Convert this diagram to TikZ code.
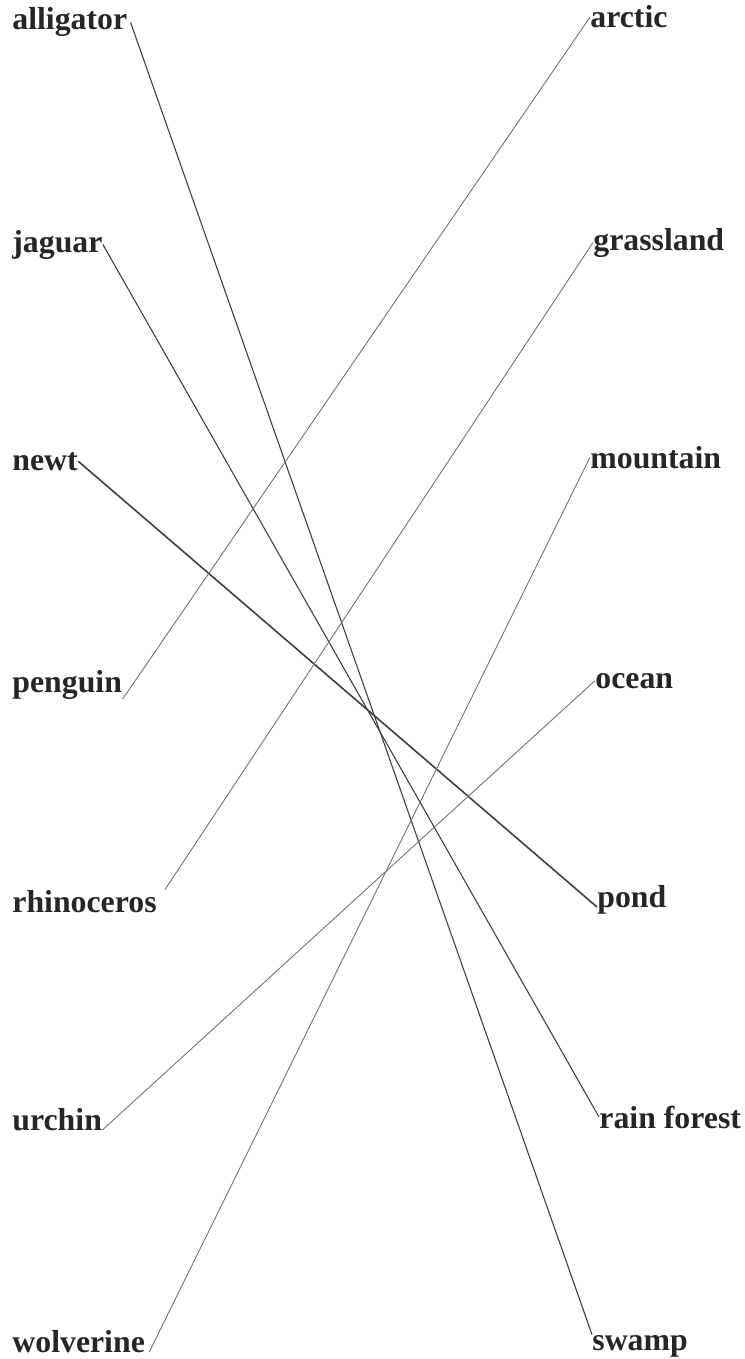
\documentclass[tikz,border=0pt]{standalone}
\usepackage{fontspec}
\setmainfont{Liberation Serif}
\begin{document}
\begin{tikzpicture}[x=0.5pt, y=-0.5pt,
    word/.style={inner sep=0pt, anchor=base west, text=black!85, font=\fontsize{15.9}{18}\selectfont\bfseries},
    pen/.style={draw=black!75, line width=0.55pt},
    lightpen/.style={draw=black!55, line width=0.45pt}]
    \useasboundingbox (0,0) rectangle (744,1359);
    % Animals
    \node (alligator) [word] at (12,30) {alligator};
    \node (jaguar) [word] at (12,252) {jaguar};
    \node (newt) [word] at (12,470) {newt};
    \node (penguin) [word] at (12,692) {penguin};
    \node (rhinoceros) [word] at (12,912) {rhinoceros};
    \node (urchin) [word] at (12,1130) {urchin};
    \node (wolverine) [word] at (12,1352) {wolverine};
    % Habitats
    \node (arctic) [word] at (590,28) {arctic};
    \node (grassland) [word] at (593,250) {grassland};
    \node (mountain) [word] at (590,468) {mountain};
    \node (ocean) [word] at (595,688) {ocean};
    \node (pond) [word] at (597,907) {pond};
    \node (rainforest) [word] at (599,1128) {rain forest};
    \node (swamp) [word] at (592,1350) {swamp};

    % Matching lines
    \draw[pen] ([xshift=1.5pt]alligator.east) -- (swamp.north west);
    \draw[pen] (jaguar.east) -- (rainforest.west);
    \draw[pen, line width=0.8pt] (newt.east) -- (pond.base west);
    \draw[lightpen] (penguin.south east) -- (arctic.west);
    \draw[lightpen] ([xshift=4pt]rhinoceros.north east) -- (grassland.west);
    \draw[lightpen] (urchin.base east) -- (ocean.west);
    \draw[lightpen] ([xshift=2pt]wolverine.base east) -- (mountain.west);
\end{tikzpicture}
\end{document}
